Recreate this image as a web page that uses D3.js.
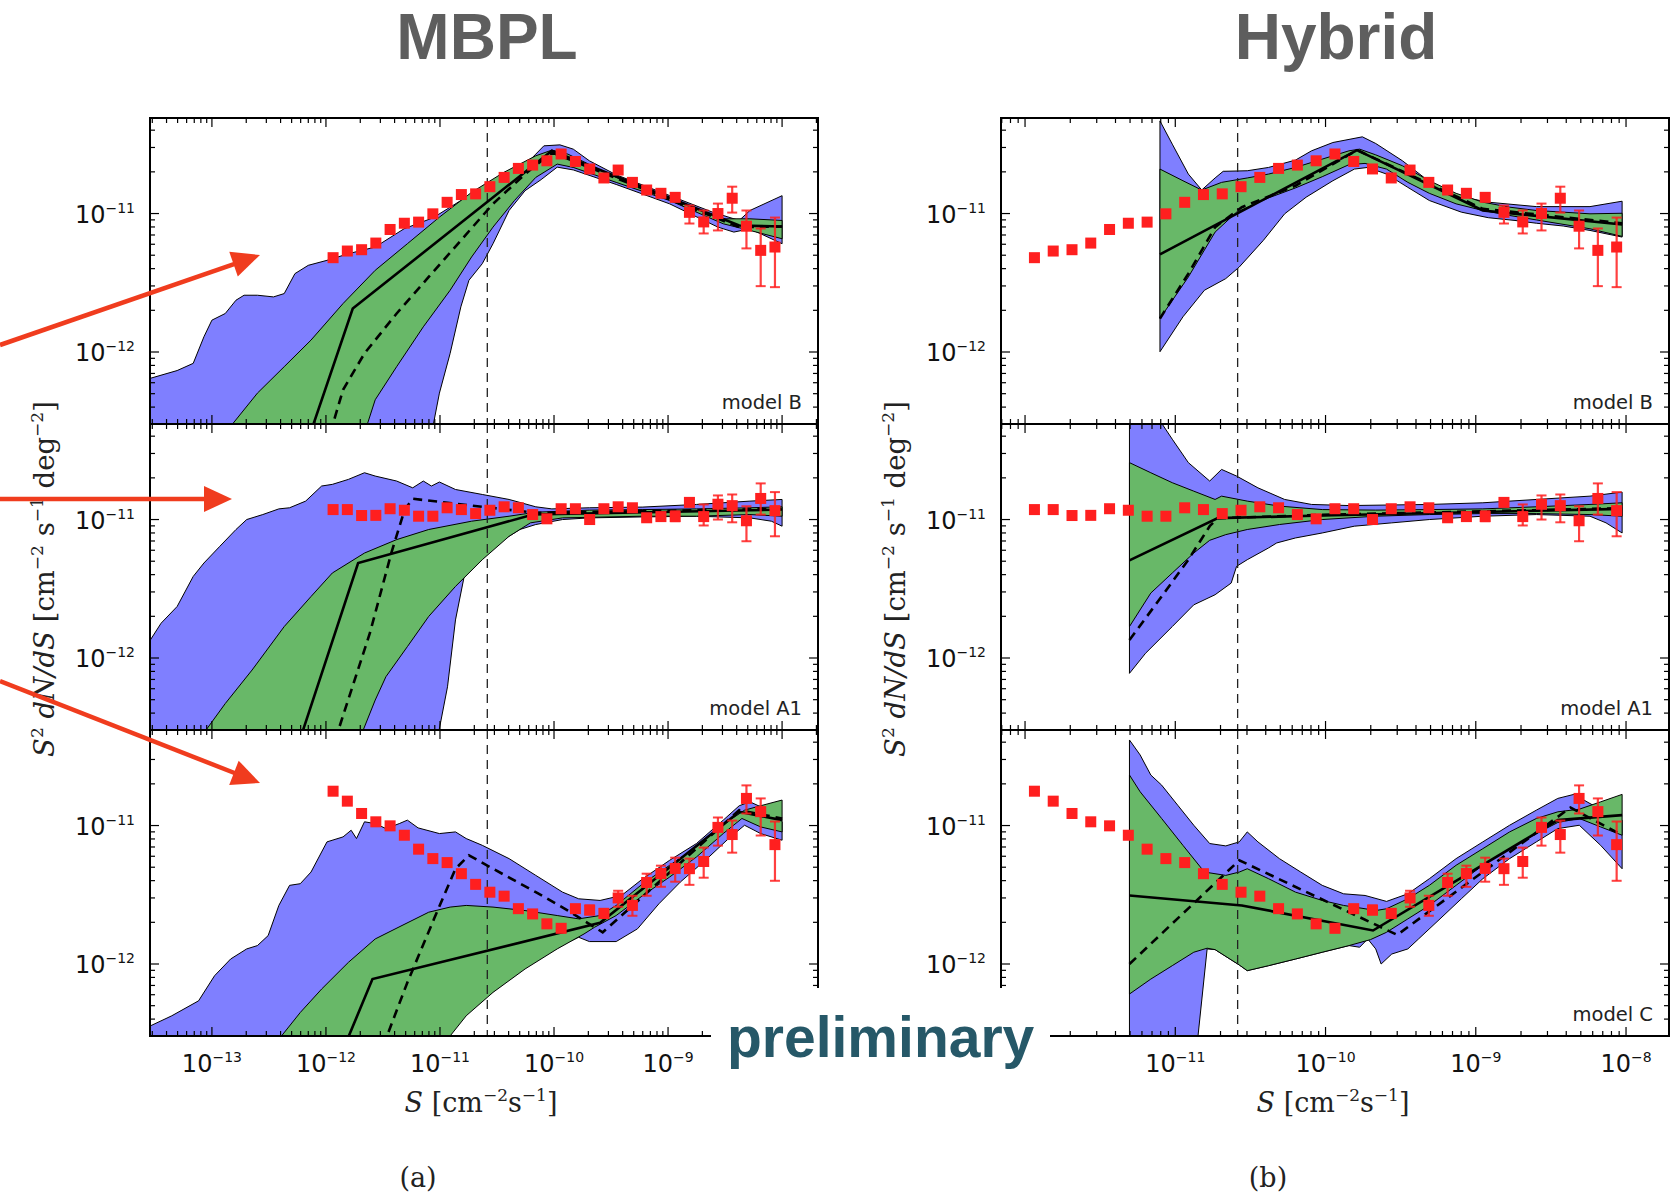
<!DOCTYPE html>
<html><head><meta charset="utf-8">
<script src="https://cdn.jsdelivr.net/npm/d3@7"></script>
<style>html,body{margin:0;padding:0;background:#fff;} svg{display:block;}</style>
</head><body>
<svg id="c" width="1679" height="1196"></svg>
<script>
// ---------------- DATA ----------------
const UNIT = 1e-12;             // point values are given in units of 1e-12
const detThreshold = 2.6e-11;   // vertical dashed line
const colTitles = ["MBPL", "Hybrid"];
const colTags = ["(a)", "(b)"];
const rowLabels = ["model B", "model A1", "model C"];
const xTickExps = [[-13,-12,-11,-10,-9,-8],[-12,-11,-10,-9,-8]];
const yTickExps = [-12,-11];

// flux bin centres S [cm^-2 s^-1]
const binS = [1.155e-12,1.540e-12,2.054e-12,2.738e-12,3.652e-12,4.870e-12,6.494e-12,8.660e-12,
  1.155e-11,1.540e-11,2.054e-11,2.738e-11,3.652e-11,4.870e-11,6.494e-11,8.660e-11,
  1.155e-10,1.540e-10,2.054e-10,2.738e-10,3.652e-10,4.870e-10,6.494e-10,8.660e-10,
  1.155e-9,1.540e-9,2.054e-9,2.738e-9,3.652e-9,4.870e-9,6.494e-9,8.660e-9];

// simulated data S^2 dN/dS (x 1e-12)
const pointsB = [4.80,5.36,5.48,6.12,7.67,8.51,8.67,9.95,12.05,13.71,13.87,15.63,18.24,21.18,22.39,24.04,
  26.92,23.77,20.99,18.07,20.61,16.79,14.79,14.00,13.09,10.2,8.7,10.0,12.9,8.1,5.42,5.73];
const errB = [null,null,null,null,null,null,null,null,null,null,null,null,null,null,null,null,
  null,null,null,null,null,null,null,null,[12.3,13.9],[8.47,11.43],[7.18,10.52],[7.55,11.80],[10.16,15.63],[5.60,10.52],[2.99,7.80],[2.94,9.35]];
const pointsA1 = [11.80,11.80,10.69,10.72,11.97,11.67,10.57,10.57,12.16,11.80,11.04,11.67,12.36,12.16,10.86,10.12,
  11.97,11.97,10.0,11.97,12.36,12.16,10.3,10.5,10.5,13.3,10.5,12.9,12.6,9.8,14.2,11.6];
const errA1 = [null,null,null,null,null,null,null,null,null,null,null,null,null,null,null,null,
  null,null,null,null,null,null,[9.8,10.8],[10.0,11.0],[9.73,11.48],[12.6,14.0],[9.06,12.85],[10.0,14.93],[9.55,15.17],[6.97,12.47],[10.86,18.24],[7.57,15.78]];
const pointsC = [17.70,15.00,12.22,10.64,9.95,8.51,6.75,5.77,5.40,4.49,3.76,3.30,3.09,2.51,2.30,1.95,
  1.81,2.51,2.45,2.32,3.0,2.65,3.88,4.5,4.9,4.88,5.5,9.7,8.61,15.70,12.6,7.28];
const errC = [null,null,null,null,null,null,null,null,null,null,null,null,null,null,null,null,
  null,null,[2.28,2.65],[2.15,2.5],[2.59,3.38],[2.23,3.11],[3.11,4.49],[3.61,5.13],[3.93,5.86],[3.73,5.77],[4.20,6.93],[7.16,11.43],[6.37,10.86],[12.22,19.50],[8.47,15.70],[3.99,10.69]];

// bands and lines: [log10 S, log10 S^2dN/dS]
const mbplB_blueHi = [[-13.6,-12.21],[-13.54,-12.19],[-13.305,-12.134],[-13.164,-12.082],[-13.07,-11.89],[-13.0,-11.77],[-12.883,-11.722],[-12.789,-11.626],[-12.718,-11.59],[-12.601,-11.59],[-12.46,-11.602],[-12.366,-11.578],[-12.272,-11.434],[-12.155,-11.374],[-11.991,-11.338],[-11.803,-11.29],[-11.568,-11.242],[-11.315,-11.11],[-11.061,-11.031],[-10.817,-10.906],[-10.568,-10.815],[-10.319,-10.703],[-10.16,-10.571],[-10.089,-10.511],[-9.948,-10.504],[-9.831,-10.535],[-9.69,-10.619],[-9.455,-10.72],[-8.986,-10.87],[-8.61,-10.99],[-8.376,-11.05],[-8.282,-10.978],[-8.0,-10.871]];
const mbplB_blueLo = [[-13.6,-12.7],[-11.10,-12.7],[-11.005,-12.297],[-10.911,-12.01],[-10.817,-11.674],[-10.746,-11.482],[-10.629,-11.362],[-10.535,-11.218],[-10.394,-10.978],[-10.254,-10.835],[-10.113,-10.755],[-9.972,-10.665],[-9.831,-10.685],[-9.455,-10.79],[-8.986,-10.93],[-8.563,-11.098],[-8.423,-11.134],[-8.282,-11.11],[-8.0,-11.218]];
const mbplB_greenHi = [[-12.883,-12.585],[-12.601,-12.297],[-12.366,-12.106],[-12.131,-11.914],[-11.85,-11.65],[-11.568,-11.41],[-11.286,-11.218],[-11.005,-11.026],[-10.723,-10.847],[-10.441,-10.703],[-10.16,-10.583],[-10.019,-10.542],[-9.878,-10.571],[-9.455,-10.739],[-8.986,-10.894],[-8.516,-11.038],[-8.282,-11.038],[-8.0,-11.05]];
const mbplB_greenLo = [[-11.662,-12.585],[-11.568,-12.345],[-11.38,-12.106],[-11.146,-11.818],[-10.911,-11.554],[-10.723,-11.314],[-10.535,-11.098],[-10.347,-10.906],[-10.16,-10.739],[-9.972,-10.643],[-9.831,-10.667],[-9.455,-10.775],[-8.986,-10.906],[-8.516,-11.074],[-8.282,-11.122],[-8.0,-11.182]];
const mbplB_best = [[-12.136,-12.585],[-11.765,-11.686],[-10.019,-10.547],[-8.376,-11.086],[-8.0,-11.094]];
const mbplB_dash = [[-11.962,-12.585],[-11.85,-12.273],[-11.662,-12.01],[-11.38,-11.722],[-11.099,-11.458],[-10.817,-11.194],[-10.535,-10.93],[-10.254,-10.715],[-10.019,-10.559],[-8.376,-11.098],[-8.0,-11.094]];

const hybB_blueHi = [[-11.102,-10.331],[-11.02,-10.499],[-10.913,-10.715],[-10.824,-10.83],[-10.735,-10.743],[-10.681,-10.695],[-10.521,-10.691],[-10.379,-10.667],[-10.2,-10.614],[-10.093,-10.547],[-9.951,-10.487],[-9.755,-10.446],[-9.666,-10.494],[-9.488,-10.619],[-9.345,-10.739],[-9.202,-10.835],[-9.06,-10.887],[-8.917,-10.918],[-8.597,-10.95],[-8.24,-10.95],[-8.026,-10.911]];
const hybB_blueLo = [[-11.102,-11.998],[-10.949,-11.746],[-10.806,-11.554],[-10.664,-11.47],[-10.574,-11.386],[-10.414,-11.194],[-10.272,-11.002],[-10.129,-10.882],[-9.951,-10.763],[-9.808,-10.679],[-9.719,-10.667],[-9.594,-10.715],[-9.452,-10.811],[-9.309,-10.906],[-9.096,-10.99],[-8.917,-11.03],[-8.739,-11.05],[-8.597,-11.07],[-8.418,-11.09],[-8.24,-11.122],[-8.026,-11.17]];
const hybB_greenHi = [[-11.102,-10.679],[-10.949,-10.763],[-10.824,-10.83],[-10.692,-10.775],[-10.521,-10.743],[-10.379,-10.715],[-10.2,-10.667],[-10.022,-10.607],[-9.844,-10.547],[-9.773,-10.535],[-9.666,-10.576],[-9.488,-10.655],[-9.309,-10.763],[-9.131,-10.854],[-8.953,-10.918],[-8.775,-10.954],[-8.597,-10.978],[-8.24,-11.002],[-8.026,-10.998]];
const hybB_greenLo = [[-11.102,-11.758],[-10.913,-11.458],[-10.735,-11.134],[-10.592,-10.99],[-10.379,-10.887],[-10.2,-10.815],[-10.022,-10.734],[-9.844,-10.647],[-9.737,-10.638],[-9.594,-10.679],[-9.452,-10.775],[-9.309,-10.854],[-9.131,-10.93],[-8.953,-10.978],[-8.775,-11.014],[-8.597,-11.046],[-8.24,-11.11],[-8.026,-11.165]];
const hybB_best = [[-11.102,-11.295],[-9.79,-10.542],[-8.953,-10.978],[-8.026,-11.079]];
const hybB_dash = [[-11.102,-11.758],[-10.913,-11.434],[-10.735,-11.098],[-10.557,-10.954],[-10.2,-10.799],[-9.79,-10.542],[-8.953,-10.966],[-8.026,-11.07]];

const mbplA1_blueHi = [[-13.6,-11.95],[-13.54,-11.87],[-13.446,-11.749],[-13.305,-11.628],[-13.164,-11.411],[-13.07,-11.314],[-12.93,-11.193],[-12.789,-11.072],[-12.695,-11.0],[-12.554,-10.964],[-12.413,-10.923],[-12.319,-10.915],[-12.178,-10.867],[-12.038,-10.758],[-11.944,-10.746],[-11.803,-10.71],[-11.662,-10.662],[-11.568,-10.686],[-11.38,-10.722],[-11.239,-10.771],[-11.146,-10.722],[-11.075,-10.758],[-11.005,-10.729],[-10.864,-10.783],[-10.629,-10.819],[-10.394,-10.855],[-10.16,-10.908],[-10.019,-10.923],[-9.69,-10.915],[-9.221,-10.91],[-8.751,-10.891],[-8.282,-10.867],[-8.0,-10.855]];
const mbplA1_blueLo = [[-13.6,-12.7],[-11.05,-12.7],[-10.934,-12.208],[-10.864,-11.725],[-10.77,-11.338],[-10.629,-11.242],[-10.488,-11.169],[-10.3,-11.072],[-10.16,-11.036],[-9.925,-11.0],[-9.69,-10.988],[-9.221,-10.981],[-8.751,-10.976],[-8.282,-10.988],[-8.094,-11.012],[-8.0,-11.048]];
const mbplA1_greenHi = [[-13.16,-12.7],[-13.117,-12.594],[-12.883,-12.329],[-12.648,-12.087],[-12.366,-11.773],[-12.131,-11.556],[-11.944,-11.386],[-11.662,-11.242],[-11.38,-11.145],[-11.099,-11.072],[-10.723,-11.012],[-10.394,-10.976],[-10.16,-10.947],[-9.69,-10.932],[-9.221,-10.928],[-8.751,-10.923],[-8.282,-10.915],[-8.0,-10.908]];
const mbplA1_greenLo = [[-11.73,-12.7],[-11.709,-12.594],[-11.568,-12.304],[-11.474,-12.135],[-11.286,-11.918],[-11.099,-11.7],[-10.864,-11.483],[-10.629,-11.29],[-10.394,-11.121],[-10.207,-11.024],[-9.925,-10.988],[-9.221,-10.976],[-8.751,-10.976],[-8.282,-10.964],[-8.0,-10.976]];
const mbplA1_best = [[-12.23,-12.594],[-11.718,-11.314],[-10.183,-10.964],[-8.0,-10.928]];
const mbplA1_dash = [[-11.92,-12.594],[-11.615,-11.821],[-11.427,-11.242],[-11.31,-10.928],[-11.239,-10.85],[-10.16,-10.952],[-8.0,-10.923]];

const hybA1_blueHi = [[-11.305,-9.8],[-11.109,-10.275],[-11.02,-10.42],[-10.913,-10.589],[-10.771,-10.722],[-10.692,-10.638],[-10.592,-10.686],[-10.45,-10.771],[-10.272,-10.855],[-10.093,-10.891],[-9.844,-10.899],[-9.309,-10.891],[-8.953,-10.879],[-8.597,-10.855],[-8.24,-10.831],[-8.026,-10.802]];
const hybA1_blueLo = [[-11.305,-12.111],[-11.198,-11.966],[-11.02,-11.773],[-10.877,-11.616],[-10.735,-11.543],[-10.628,-11.459],[-10.592,-11.338],[-10.521,-11.29],[-10.379,-11.205],[-10.325,-11.169],[-10.2,-11.133],[-10.022,-11.097],[-9.808,-11.048],[-9.559,-11.024],[-9.309,-11.0],[-8.953,-10.976],[-8.597,-10.964],[-8.24,-10.976],[-8.133,-11.024],[-8.026,-11.097]];
const hybA1_greenHi = [[-11.305,-10.589],[-11.163,-10.662],[-11.02,-10.734],[-10.877,-10.795],[-10.735,-10.855],[-10.692,-10.831],[-10.521,-10.867],[-10.307,-10.903],[-10.022,-10.928],[-9.666,-10.932],[-9.309,-10.928],[-8.953,-10.923],[-8.597,-10.908],[-8.24,-10.891],[-8.026,-10.879]];
const hybA1_greenLo = [[-11.305,-11.773],[-11.163,-11.531],[-11.02,-11.386],[-10.877,-11.242],[-10.771,-11.15],[-10.664,-11.109],[-10.521,-11.072],[-10.307,-11.036],[-10.022,-11.0],[-9.666,-10.976],[-9.309,-10.964],[-8.953,-10.957],[-8.597,-10.957],[-8.24,-10.964],[-8.026,-10.976]];
const hybA1_best = [[-11.305,-11.295],[-10.717,-10.99],[-10.022,-10.971],[-8.026,-10.923]];
const hybA1_dash = [[-11.305,-11.87],[-11.091,-11.556],[-10.913,-11.29],[-10.771,-11.048],[-10.717,-10.99],[-10.022,-10.966],[-8.026,-10.918]];

const mbplC_blueHi = [[-13.6,-12.47],[-13.54,-12.447],[-13.352,-12.374],[-13.117,-12.266],[-12.977,-12.085],[-12.836,-11.964],[-12.695,-11.891],[-12.601,-11.867],[-12.507,-11.795],[-12.413,-11.577],[-12.319,-11.432],[-12.225,-11.42],[-12.131,-11.336],[-12.038,-11.191],[-11.991,-11.118],[-11.85,-11.082],[-11.779,-11.034],[-11.732,-11.094],[-11.662,-10.973],[-11.568,-10.986],[-11.474,-11.022],[-11.357,-10.986],[-11.286,-10.961],[-11.192,-11.017],[-11.005,-11.058],[-10.864,-11.046],[-10.77,-11.094],[-10.629,-11.143],[-10.394,-11.239],[-10.16,-11.36],[-9.925,-11.481],[-9.784,-11.529],[-9.596,-11.541],[-9.408,-11.505],[-9.221,-11.384],[-8.986,-11.251],[-8.751,-11.13],[-8.516,-10.961],[-8.376,-10.857],[-8.282,-10.829],[-8.141,-10.882],[-8.0,-10.973]];
const mbplC_blueLo = [[-13.6,-12.7],[-11.1,-12.7],[-11.075,-12.592],[-10.864,-12.399],[-10.629,-12.229],[-10.347,-12.06],[-10.066,-11.915],[-9.784,-11.807],[-9.69,-11.838],[-9.455,-11.838],[-9.268,-11.746],[-9.08,-11.565],[-8.892,-11.408],[-8.657,-11.239],[-8.469,-11.094],[-8.329,-10.998],[-8.188,-11.058],[-8.0,-11.106]];
const mbplC_greenHi = [[-12.5,-12.7],[-12.46,-12.592],[-12.225,-12.35],[-12.038,-12.181],[-11.803,-11.988],[-11.568,-11.819],[-11.333,-11.722],[-11.099,-11.626],[-10.911,-11.589],[-10.77,-11.577],[-10.535,-11.589],[-10.254,-11.614],[-9.972,-11.65],[-9.784,-11.674],[-9.596,-11.65],[-9.455,-11.577],[-9.221,-11.42],[-8.986,-11.287],[-8.751,-11.155],[-8.516,-10.993],[-8.329,-10.889],[-8.188,-10.857],[-8.0,-10.816]];
const mbplC_greenLo = [[-11.0,-12.7],[-10.981,-12.592],[-10.77,-12.374],[-10.535,-12.205],[-10.254,-12.036],[-9.972,-11.891],[-9.737,-11.783],[-9.643,-11.734],[-9.455,-11.65],[-9.221,-11.505],[-8.986,-11.372],[-8.751,-11.227],[-8.516,-11.058],[-8.352,-10.949],[-8.188,-11.01],[-8.0,-11.046]];
const mbplC_best = [[-11.84,-12.6],[-11.592,-12.109],[-9.596,-11.703],[-8.376,-10.901],[-8.0,-10.961]];
const mbplC_dash = [[-11.498,-12.592],[-11.286,-12.133],[-11.052,-11.674],[-10.864,-11.312],[-10.746,-11.215],[-10.535,-11.312],[-10.16,-11.481],[-9.878,-11.614],[-9.573,-11.771],[-9.408,-11.65],[-8.376,-10.889],[-8.0,-10.949]];

const hybC_blueHi = [[-11.305,-10.382],[-11.234,-10.49],[-11.163,-10.635],[-11.091,-10.708],[-10.984,-10.853],[-10.877,-10.998],[-10.771,-11.13],[-10.664,-11.147],[-10.574,-11.118],[-10.521,-11.046],[-10.45,-11.118],[-10.307,-11.239],[-10.165,-11.336],[-10.022,-11.432],[-9.88,-11.493],[-9.737,-11.505],[-9.594,-11.548],[-9.452,-11.493],[-9.309,-11.384],[-9.131,-11.239],[-8.953,-11.118],[-8.775,-10.998],[-8.597,-10.889],[-8.454,-10.804],[-8.347,-10.775],[-8.24,-10.841],[-8.133,-10.906],[-8.026,-10.961]];
const hybC_blueLo = [[-11.305,-12.7],[-10.86,-12.7],[-10.849,-12.522],[-10.788,-11.891],[-10.735,-11.896],[-10.574,-12.007],[-10.521,-12.048],[-10.379,-12.012],[-10.2,-11.964],[-10.022,-11.915],[-9.844,-11.867],[-9.773,-11.879],[-9.719,-11.819],[-9.666,-11.891],[-9.63,-12.0],[-9.559,-11.928],[-9.452,-11.891],[-9.381,-11.819],[-9.238,-11.674],[-9.096,-11.529],[-8.953,-11.384],[-8.775,-11.239],[-8.597,-11.118],[-8.454,-11.022],[-8.311,-10.998],[-8.169,-11.143],[-8.026,-11.312]];
const hybC_greenHi = [[-11.305,-10.635],[-11.234,-10.756],[-11.091,-10.949],[-10.949,-11.143],[-10.806,-11.336],[-10.664,-11.36],[-10.574,-11.336],[-10.521,-11.312],[-10.379,-11.384],[-10.2,-11.481],[-10.022,-11.541],[-9.88,-11.577],[-9.737,-11.601],[-9.666,-11.614],[-9.594,-11.601],[-9.452,-11.529],[-9.309,-11.432],[-9.131,-11.287],[-8.953,-11.167],[-8.775,-11.046],[-8.597,-10.949],[-8.454,-10.901],[-8.311,-10.882],[-8.169,-10.829],[-8.026,-10.775]];
const hybC_greenLo = [[-11.305,-12.217],[-11.163,-12.109],[-11.02,-12.012],[-10.877,-11.915],[-10.788,-11.886],[-10.735,-11.896],[-10.574,-12.007],[-10.521,-12.048],[-10.379,-12.012],[-10.2,-11.964],[-10.022,-11.915],[-9.844,-11.867],[-9.701,-11.824],[-9.594,-11.771],[-9.452,-11.674],[-9.309,-11.577],[-9.131,-11.432],[-8.953,-11.287],[-8.775,-11.167],[-8.597,-11.058],[-8.454,-10.978],[-8.311,-10.949],[-8.169,-11.01],[-8.026,-11.07]];
const hybC_best = [[-11.305,-11.505],[-10.557,-11.577],[-9.684,-11.758],[-8.454,-10.961],[-8.026,-10.925]];
const hybC_dash = [[-11.305,-12.0],[-10.574,-11.251],[-9.523,-11.79],[-8.37,-10.87],[-8.026,-11.07]];

// annotation arrows (page pixels: start, tip)
const arrows = [[[0,345],[260,255]],[[0,499],[232,499]],[[0,681],[260,783]]];

// ---------------- LAYOUT ----------------
const cols = [{left:150,right:818,dom:[-13.543,-7.685]},{left:1001,right:1669,dom:[-12.16,-7.714]}];
const rowTop = [118,424,730], rowH = 306;
const yDom = [-12.52,-10.31];
const stamp = {x:711, y:988, w:339, h:100};
const BLUE = "#7f7fff", GREEN = "#68b868", RED = "#ff1f1f";
const underStamp = (x,y)=> x > stamp.x-25 && x < stamp.x+stamp.w+25 && y > stamp.y-10;

const panels = [
  {c:0,r:0,pts:pointsB,err:errB,bh:mbplB_blueHi,bl:mbplB_blueLo,gh:mbplB_greenHi,gl:mbplB_greenLo,best:mbplB_best,dash:mbplB_dash},
  {c:1,r:0,pts:pointsB,err:errB,bh:hybB_blueHi,bl:hybB_blueLo,gh:hybB_greenHi,gl:hybB_greenLo,best:hybB_best,dash:hybB_dash},
  {c:0,r:1,pts:pointsA1,err:errA1,bh:mbplA1_blueHi,bl:mbplA1_blueLo,gh:mbplA1_greenHi,gl:mbplA1_greenLo,best:mbplA1_best,dash:mbplA1_dash},
  {c:1,r:1,pts:pointsA1,err:errA1,bh:hybA1_blueHi,bl:hybA1_blueLo,gh:hybA1_greenHi,gl:hybA1_greenLo,best:hybA1_best,dash:hybA1_dash},
  {c:0,r:2,pts:pointsC,err:errC,bh:mbplC_blueHi,bl:mbplC_blueLo,gh:mbplC_greenHi,gl:mbplC_greenLo,best:mbplC_best,dash:mbplC_dash},
  {c:1,r:2,pts:pointsC,err:errC,bh:hybC_blueHi,bl:hybC_blueLo,gh:hybC_greenHi,gl:hybC_greenLo,best:hybC_best,dash:hybC_dash}
];

const svg = d3.select("#c");
const defs = svg.append("defs");

function minorTicks(lo, hi){
  const out=[];
  for(let k=Math.floor(lo);k<=Math.ceil(hi);k++){
    for(let m=2;m<10;m++){const v=m*Math.pow(10,k); const lv=Math.log10(v); if(lv>lo && lv<hi) out.push(v);}
  }
  return out;
}

panels.forEach((p,i)=>{
  const col = cols[p.c];
  const top = rowTop[p.r], bot = top+rowH;
  const xs = d3.scaleLog().domain([10**col.dom[0],10**col.dom[1]]).range([col.left,col.right]);
  const ys = d3.scaleLog().domain([10**yDom[0],10**yDom[1]]).range([bot,top]);
  const cid = "clip"+i;
  defs.append("clipPath").attr("id",cid).append("rect")
    .attr("x",col.left).attr("y",top).attr("width",col.right-col.left).attr("height",rowH);
  const g = svg.append("g").attr("clip-path",`url(#${cid})`);
  const toPx = d=>[xs(10**d[0]), ys(10**d[1])];
  const closed = d3.line().curve(d3.curveLinearClosed);
  const open = d3.line();
  const poly = (hi,lo)=>closed(hi.concat(lo.slice().reverse()).map(toPx));

  g.append("path").attr("d",poly(p.bh,p.bl)).attr("fill",BLUE).attr("stroke","#000").attr("stroke-width",1);
  g.append("path").attr("d",poly(p.gh,p.gl)).attr("fill",GREEN).attr("stroke","#000").attr("stroke-width",1);

  g.append("line").attr("x1",xs(detThreshold)).attr("x2",xs(detThreshold)).attr("y1",top).attr("y2",bot)
    .attr("stroke","#222").attr("stroke-width",1.3).attr("stroke-dasharray","9,6");

  g.append("path").attr("d",open(p.best.map(toPx))).attr("fill","none").attr("stroke","#000").attr("stroke-width",2.6);
  g.append("path").attr("d",open(p.dash.map(toPx))).attr("fill","none").attr("stroke","#000").attr("stroke-width",2.6).attr("stroke-dasharray","9,6");

  // error bars
  p.err.forEach((e,j)=>{
    if(!e) return;
    const x = xs(binS[j]);
    const y1 = ys(e[0]*UNIT), y2 = ys(e[1]*UNIT);
    g.append("line").attr("x1",x).attr("x2",x).attr("y1",y1).attr("y2",y2).attr("stroke",RED).attr("stroke-width",2.2).attr("opacity",0.85);
    [y1,y2].forEach(yy=>g.append("line").attr("x1",x-5).attr("x2",x+5).attr("y1",yy).attr("y2",yy).attr("stroke",RED).attr("stroke-width",2).attr("opacity",0.85));
  });
  g.selectAll("rect.pt").data(p.pts).enter().append("rect").attr("class","pt")
    .attr("x",(d,j)=>xs(binS[j])-5.5).attr("y",d=>ys(d*UNIT)-5.5).attr("width",11).attr("height",11).attr("fill",RED);

  // frame
  svg.append("rect").attr("x",col.left).attr("y",top).attr("width",col.right-col.left).attr("height",rowH)
    .attr("fill","none").attr("stroke","#000").attr("stroke-width",2);

  // ticks
  const tg = svg.append("g").attr("stroke","#000").attr("stroke-width",1.2);
  xTickExps[p.c].forEach(k=>{const x=xs(10**k); tg.append("line").attr("x1",x).attr("x2",x).attr("y1",bot).attr("y2",bot-9); tg.append("line").attr("x1",x).attr("x2",x).attr("y1",top).attr("y2",top+9);});
  minorTicks(col.dom[0],col.dom[1]).forEach(v=>{const x=xs(v); tg.append("line").attr("x1",x).attr("x2",x).attr("y1",bot).attr("y2",bot-5); tg.append("line").attr("x1",x).attr("x2",x).attr("y1",top).attr("y2",top+5);});
  yTickExps.forEach(k=>{const y=ys(10**k); tg.append("line").attr("x1",col.left).attr("x2",col.left+9).attr("y1",y).attr("y2",y); tg.append("line").attr("x1",col.right).attr("x2",col.right-9).attr("y1",y).attr("y2",y);});
  minorTicks(yDom[0],yDom[1]).forEach(v=>{const y=ys(v); tg.append("line").attr("x1",col.left).attr("x2",col.left+5).attr("y1",y).attr("y2",y); tg.append("line").attr("x1",col.right).attr("x2",col.right-5).attr("y1",y).attr("y2",y);});

  // y tick labels
  yTickExps.forEach(k=>{
    const t = svg.append("text").attr("x",col.left-15).attr("y",ys(10**k)+9).attr("text-anchor","end")
      .style("font-family","DejaVu Sans").style("font-size","24px").attr("fill","#111");
    t.append("tspan").text("10");
    t.append("tspan").attr("dy",-10).style("font-size","14px").text("\u2212"+(-k));
  });
  // x tick labels on the bottom row (those under the stamp are hidden in the reference)
  if(p.r===2){
    xTickExps[p.c].forEach(k=>{
      const x = xs(10**k);
      if(underStamp(x, bot+30)) return;
      const t = svg.append("text").attr("x",x).attr("y",bot+36).attr("text-anchor","middle")
        .style("font-family","DejaVu Sans").style("font-size","24px").attr("fill","#111");
      t.append("tspan").text("10");
      t.append("tspan").attr("dy",-10).style("font-size","14px").text("\u2212"+(-k));
    });
  }
  // model label (hidden in the reference where the stamp covers it)
  const lx = col.right-16, ly = bot-15;
  if(!underStamp(lx-40, ly)){
    svg.append("text").attr("x",lx).attr("y",ly).attr("text-anchor","end")
      .style("font-family","DejaVu Sans").style("font-size","19.5px").attr("fill","#222").text(rowLabels[p.r]);
  }
});

// column titles, axis labels, tags
cols.forEach((col,c)=>{
  const cx = [487,1336][c];
  svg.append("text").attr("x",cx).attr("y",59).attr("text-anchor","middle")
    .style("font-family","Liberation Sans, Arial, sans-serif").style("font-weight","bold").style("font-size","64px")
    .attr("fill","#5e5e5e").text(colTitles[c]);
  // x label
  const xl = svg.append("text").attr("x",[481,1333][c]).attr("y",1112).attr("text-anchor","middle")
    .style("font-family","DejaVu Serif").style("font-size","27px").attr("fill","#222");
  xl.append("tspan").style("font-style","italic").text("S");
  xl.append("tspan").text(" [cm");
  xl.append("tspan").attr("dy",-11).style("font-size","17px").text("\u22122");
  xl.append("tspan").attr("dy",11).text("s");
  xl.append("tspan").attr("dy",-11).style("font-size","17px").text("\u22121");
  xl.append("tspan").attr("dy",11).text("]");
  // y label
  const yl = svg.append("text").attr("transform",`translate(${[54,905][c]},579) rotate(-90)`).attr("text-anchor","middle")
    .style("font-family","DejaVu Serif").style("font-size","27.5px").attr("fill","#222");
  yl.append("tspan").style("font-style","italic").text("S");
  yl.append("tspan").attr("dy",-11).style("font-size","17px").text("2");
  yl.append("tspan").attr("dy",11).style("font-style","italic").text(" dN/dS");
  yl.append("tspan").text(" [cm");
  yl.append("tspan").attr("dy",-11).style("font-size","17px").text("\u22122");
  yl.append("tspan").attr("dy",11).text(" s");
  yl.append("tspan").attr("dy",-11).style("font-size","17px").text("\u22121");
  yl.append("tspan").attr("dy",11).text(" deg");
  yl.append("tspan").attr("dy",-11).style("font-size","17px").text("\u22122");
  yl.append("tspan").attr("dy",11).text("]");
  // tags
  svg.append("text").attr("x",[418,1268][c]).attr("y",1187).attr("text-anchor","middle")
    .style("font-family","DejaVu Serif").style("font-size","27px").attr("fill","#222").text(colTags[c]);
});

// preliminary stamp
svg.append("rect").attr("x",stamp.x).attr("y",stamp.y).attr("width",stamp.w).attr("height",stamp.h).attr("fill","#fff");
svg.append("text").attr("x",727).attr("y",1057)
  .style("font-family","Liberation Sans, Arial, sans-serif").style("font-weight","bold").style("font-size","57px")
  .attr("fill","#265868").text("preliminary");

// arrows
const ARROW = "#f03c1e";
arrows.forEach(([a,b])=>{
  const dx=b[0]-a[0], dy=b[1]-a[1], L=Math.hypot(dx,dy), ux=dx/L, uy=dy/L;
  const hl=28, hw=13;
  const bx=b[0]-ux*hl, by=b[1]-uy*hl;
  svg.append("line").attr("x1",a[0]).attr("y1",a[1]).attr("x2",bx+ux*2).attr("y2",by+uy*2)
    .attr("stroke",ARROW).attr("stroke-width",4.5);
  svg.append("path").attr("d",d3.line()([[b[0],b[1]],[bx-uy*hw,by+ux*hw],[bx+uy*hw,by-ux*hw]])+"Z").attr("fill",ARROW);
});
</script></body></html>
